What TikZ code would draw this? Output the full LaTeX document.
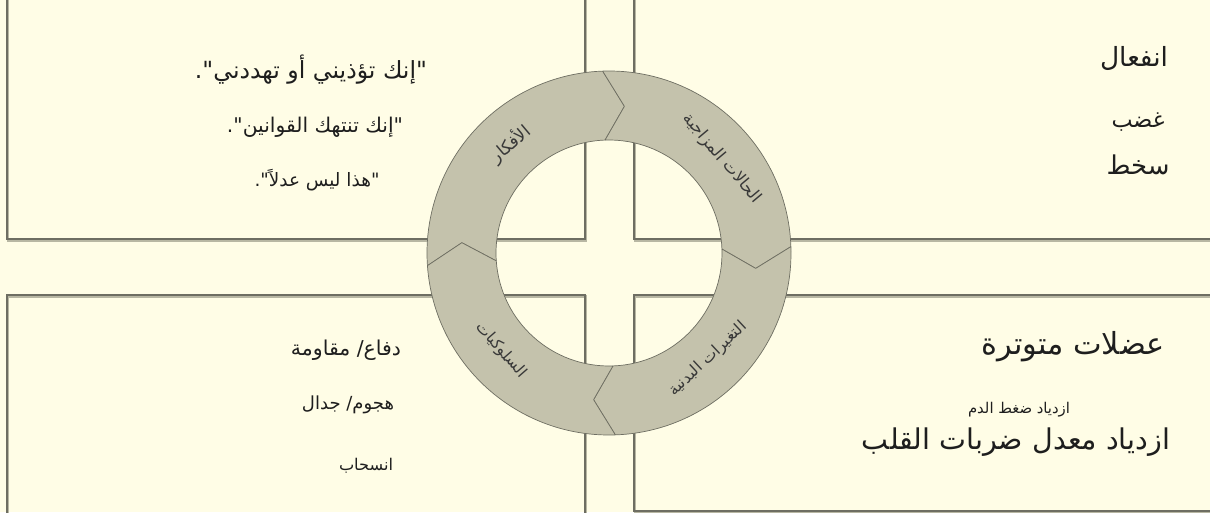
\documentclass[tikz,border=0pt]{standalone}
\usepackage{fontspec}
\TeXXeTstate=1
\newfontfamily\arabicfont[Script=Arabic]{DejaVu Sans}
\usetikzlibrary{calc}
\definecolor{bg}{HTML}{FFFDE6}
\definecolor{ringfill}{HTML}{C4C2AC}
\definecolor{edge}{HTML}{6E6E62}
\definecolor{shadowc}{HTML}{B8B7A3}
\definecolor{txt}{HTML}{1E1E1E}
\newcommand\fitw[2]{\resizebox{#1pt}{!}{\arabicfont #2}}
\newcommand\sep{\kern0pt}
\begin{document}
\begin{tikzpicture}[x=1pt,y=1pt,
  panel/.style={draw=edge, line width=1.3pt},
  panelshadow/.style={draw=shadowc, line width=2.4pt},
  seg/.style={fill=ringfill, draw=edge, line width=0.7pt, line join=round},
  lbl/.style={text=txt, inner sep=0pt, anchor=center},
  ringlbl/.style={text=black!78, inner sep=0pt, anchor=center}]
\fill[bg] (0,0) rectangle (1210,512);
\useasboundingbox (0,0) rectangle (1210,512);
% panels: shadows
\begin{scope}[shift={(1.2,-1.4)}]
\draw[panelshadow] (7,520) -- (7,273) -- (585,273) -- (585,520);
\draw[panelshadow] (1220,273) -- (634,273) -- (634,520);
\draw[panelshadow] (7,-10) -- (7,217) -- (585,217) -- (585,-10);
\draw[panelshadow] (1220,217) -- (634,217) -- (634,1) -- (1220,1);
\end{scope}
% panels
\draw[panel] (7,520) -- (7,273) -- (585,273) -- (585,520);
\draw[panel] (1220,273) -- (634,273) -- (634,520);
\draw[panel] (7,-10) -- (7,217) -- (585,217) -- (585,-10);
\draw[panel] (1220,217) -- (634,217) -- (634,1) -- (1220,1);
% ring
\begin{scope}[shift={(609,259)}]
\foreach \s/\e in {184/92, 92/2, 2/-88, -88/-176} {
  \draw[seg] (\s:182pt) arc[start angle=\s, end angle=\e, radius=182pt]
     -- ({\e-8}:147.5pt) -- (\e:113pt)
     arc[start angle=\e, end angle=\s, radius=113pt]
     -- ({\s-8}:147.5pt) -- cycle;
}
\node[ringlbl, rotate=40] (r1) at (132:147pt) {\fitw{46}{\beginR الأفكار\endR}};
\node[ringlbl, rotate=-50] (r2) at (40:147pt) {\fitw{112}{\beginR الحالات المزاجية\endR}};
\node[ringlbl, rotate=43] (r3) at (-47:145pt) {\fitw{100}{\beginR التغيرات البدنية\endR}};
\node[ringlbl, rotate=-49] (r4) at (-138:145pt) {\fitw{68}{\beginR السلوكيات\endR}};
\end{scope}
% top-left texts
\node[lbl] (tl1) at (311,442) {\fitw{232}{\beginR "\sep إنك تؤذيني أو تهددني\sep"\sep.\endR}};
\node[lbl] (tl2) at (315,385) {\fitw{176}{\beginR "\sep إنك تنتهك القوانين\sep"\sep.\endR}};
\node[lbl] (tl3) at (317,332) {\fitw{125}{\beginR "\sep هذا ليس عدلاً\sep"\sep.\endR}};
% top-right texts
\node[lbl] (tr1) at (1134,454) {\fitw{68}{\beginR انفعال\endR}};
\node[lbl] (tr2) at (1138,390) {\fitw{53}{\beginR غضب\endR}};
\node[lbl] (tr3) at (1138,347) {\fitw{63}{\beginR سخط\endR}};
% bottom-left texts
\node[lbl] (bl1) at (346,162) {\fitw{110}{\beginR دفاع\sep/ مقاومة\endR}};
\node[lbl] (bl2) at (348,107) {\fitw{92}{\beginR هجوم\sep/ جدال\endR}};
\node[lbl] (bl3) at (366,46) {\fitw{54}{\beginR انسحاب\endR}};
% bottom-right texts
\node[lbl] (br1) at (1073,165) {\fitw{183}{\beginR عضلات متوترة\endR}};
\node[lbl] (br2) at (1019,102) {\fitw{102}{\beginR ازدياد ضغط الدم\endR}};
\node[lbl] (br3) at (1016,70) {\fitw{308}{\beginR ازدياد معدل ضربات القلب\endR}};
\end{tikzpicture}
\end{document}
